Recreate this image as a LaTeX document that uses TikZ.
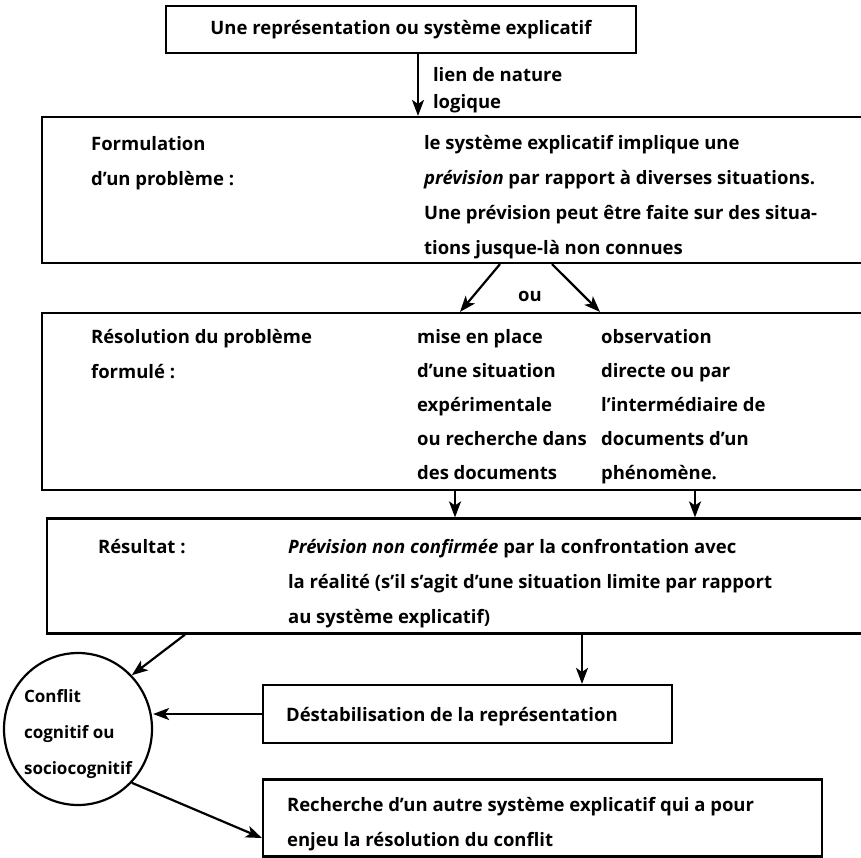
\documentclass[tikz,border=0pt]{standalone}
\usepackage{fontspec}
\setmainfont{Open Sans}
\usetikzlibrary{positioning, arrows.meta, shapes.geometric}

\begin{document}
\begin{tikzpicture} [ x=1bp, y=-1bp
                    , line width=2.2bp
                    , font=\fontsize{18.5bp}{35bp}\selectfont\bfseries
                    , box/.style={draw, inner sep=0pt}
                    , txt/.style={inner sep=0pt, anchor=base west, align=left}
                    , arr/.style={-{Stealth[length=16bp, width=12bp, inset=4bp]}}
                    ]

  \useasboundingbox (0,0) rectangle (861,858);
  \clip (0,0) rectangle (861,858);

  % --- Representation ---------------------------------------------------------
  \node [ box
        , minimum width=470bp
        , minimum height=47bp
        ]
        (rep) at (401,29.5) {Une représentation ou système explicatif};

  \coordinate (xa) at (418,0);
  \node [ txt
        , font=\fontsize{18.5bp}{27bp}\selectfont\bfseries
        ]
        (lien) at (432,108) {lien de nature\\logique};
  % ---------------------------------------------------------------------------

  % --- Formulation ------------------------------------------------------------
  \node [ box
        , minimum width=828bp
        , minimum height=146bp
        ]
        (form) at (456,190) {};

  \node [ txt ] (formL) at (90,185) {Formulation\\d'un problème :};
  \node [ txt ] (formR) at (423,254)
        {le système explicatif implique une\\
         \textit{prévision} par rapport à diverses situations.\\
         Une prévision peut être faite sur des situa-\\
         tions jusque-là non connues};

  \coordinate (ou1) at (500,0);
  \coordinate (ou2) at (552,0);
  \coordinate (ou3) at (460,0);
  \coordinate (ou4) at (600,0);
  \node [ inner sep=0pt ] (ou) at (530,296) {ou};
  % ---------------------------------------------------------------------------

  % --- Resolution -------------------------------------------------------------
  \node [ box
        , minimum width=828bp
        , minimum height=177bp
        ]
        (reso) at (456,401.5) {};

  \node [ txt ] (resoL) at (90,378) {Résolution du problème\\formulé :};
  \node [ txt
        , font=\fontsize{18.5bp}{34bp}\selectfont\bfseries
        ]
        (resoM) at (416,479)
        {mise en place\\d'une situation\\expérimentale\\ou recherche dans\\des documents};
  \node [ txt
        , font=\fontsize{18.5bp}{34bp}\selectfont\bfseries
        ]
        (resoR) at (600,479)
        {observation\\directe ou par\\l'intermédiaire de\\documents d'un\\phénomène.};

  \coordinate (r1) at (455,0);
  \coordinate (r2) at (695,0);
  % ---------------------------------------------------------------------------

  % --- Resultat ---------------------------------------------------------------
  \node [ box
        , minimum width=823bp
        , minimum height=115bp
        ]
        (resu) at (458.5,576) {};

  \node [ txt ] (resuL) at (97,553) {Résultat :};
  \node [ txt ] (resuR) at (287,623)
        {\textit{Prévision non confirmée} par la confrontation avec\\
         la réalité (s'il s'agit d'une situation limite par rapport\\
         au système explicatif)};

  \coordinate (c1) at (185,0);
  \coordinate (d1) at (582,0);
  % ---------------------------------------------------------------------------

  % --- Conflit / Destabilisation / Recherche ----------------------------------
  \node [ draw
        , ellipse
        , minimum width=148bp
        , minimum height=152bp
        , inner sep=0pt
        ]
        (conf) at (78,729) {};
  \node [ inner sep=0pt
        , align=left
        , yshift=-5bp
        , font=\fontsize{17bp}{36bp}\selectfont\bfseries
        ]
        (confT) at (conf.center) {Conflit\\cognitif ou\\sociocognitif};

  \node [ box
        , minimum width=409bp
        , minimum height=58bp
        ]
        (dest) at (467.5,714) {};
  \node [ txt ] (destT) at (285,721) {Déstabilisation de la représentation};

  \node [ box
        , minimum width=559bp
        , minimum height=77bp
        ]
        (rech) at (542.5,818) {};
  \node [ txt ] (rechT) at (286,846)
        {Recherche d'un autre système explicatif qui a pour\\
         enjeu la résolution du conflit};
  % ---------------------------------------------------------------------------

  % --- Arrows -----------------------------------------------------------------
  \draw [arr] (rep.south -| xa) -- (form.north -| xa);
  \draw [arr] (form.south -| ou1) -- (reso.north -| ou3);
  \draw [arr] (form.south -| ou2) -- (reso.north -| ou4);
  \draw [arr] (reso.south -| r1) -- (resu.north -| r1);
  \draw [arr] (reso.south -| r2) -- (resu.north -| r2);
  \draw [arr] (resu.south -| c1) -- (conf.45);
  \draw [arr] (resu.south -| d1) -- (dest.north -| d1);
  \draw [arr] (dest.west) -- (dest.west -| conf.east);
  \draw [arr] (conf.-45) -- ([yshift=-20bp]rech.west);
  % ---------------------------------------------------------------------------
\end{tikzpicture}
\end{document}
